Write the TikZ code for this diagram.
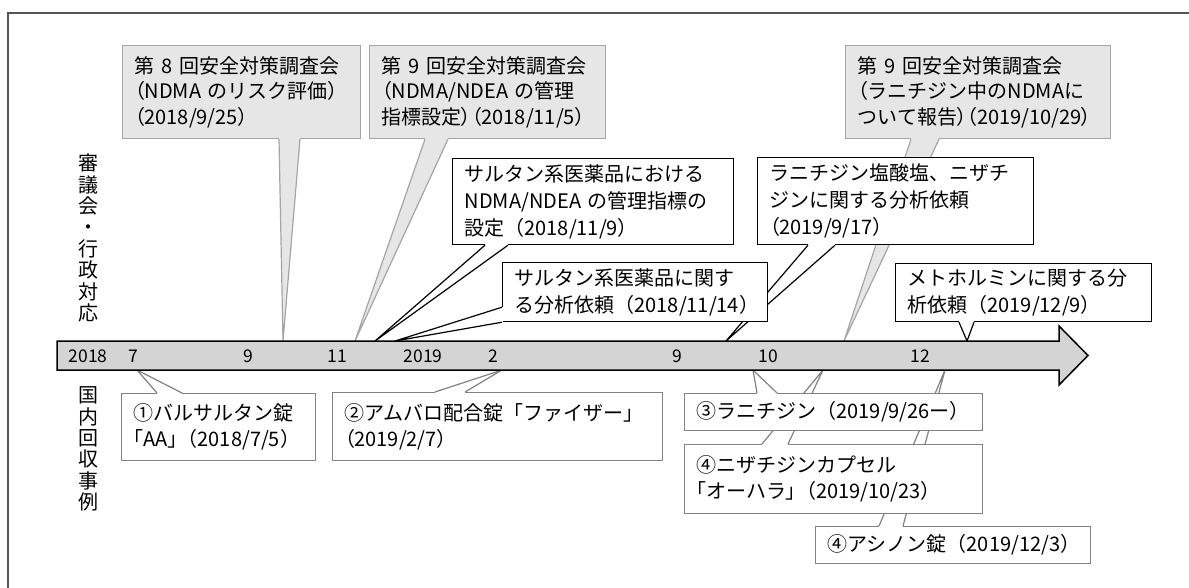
\documentclass[tikz,border=0pt]{standalone}
\usepackage{fontspec}
\setmainfont{Noto Sans CJK JP}
\newfontfamily\pfont[RawFeature=+palt]{Noto Sans CJK JP}
\usepackage{tikz}
\newcommand{\lp}{{\pfont （}}
\newcommand{\rp}{{\pfont ）}}
\newcommand{\lb}{{\pfont 「}}
\newcommand{\rb}{{\pfont 」}}
\definecolor{govfill}{RGB}{230,230,230}
\definecolor{govline}{RGB}{165,165,165}
\definecolor{recline}{RGB}{130,130,130}
\definecolor{barfill}{RGB}{212,212,212}
\definecolor{frameline}{RGB}{85,85,85}
% pointer of a callout: line colour, fill colour, base 1, base 2, tip
\newcommand{\calltail}[5]{%
  \fill[#2] (#3) -- (#5) -- (#4) -- cycle;
  \draw[#2, line width=2.2pt] (#3) -- (#4);
  \draw[#1, line width=1.2pt] (#3) -- (#5) -- (#4);}
\tikzset{
  govbox/.style={draw=govline, fill=govfill, line width=1.2pt, anchor=north west,
    inner xsep=12pt, inner ysep=0pt, align=left, font=\fontsize{20}{25.5}\selectfont},
  admbox/.style={govbox, draw=black, fill=white, font=\fontsize{20}{27}\selectfont},
  recbox/.style={govbox, draw=recline, fill=white, font=\fontsize{20}{26}\selectfont},
  month/.style={font=\fontsize{17.5}{20}\selectfont},
  sidelabel/.style={align=center, font=\fontsize{20}{21.4}\selectfont}
}
\begin{document}
\begin{tikzpicture}[x=1pt, y=-1pt]
  \useasboundingbox (0,0) rectangle (1189,587);

  \draw[frameline, line width=1.3pt] (8,600) -- (8,13) -- (1200,13);

  \node[sidelabel] (shingi) at (88,238) {審\\議\\会\\・\\行\\政\\対\\応};
  \node[sidelabel] (kaishu) at (88,449) {国\\内\\回\\収\\事\\例};

  %% tips on the time line
  \coordinate (tip-g8) at (283,341);
  \coordinate (tip-g9a) at (355,341);
  \coordinate (tip-kanri) at (375,341);
  \coordinate (tip-bunseki) at (395,341);
  \coordinate (tip-rani) at (726,341);
  \coordinate (tip-g9b) at (844,341);
  \coordinate (tip-metf) at (967,341);
  \coordinate (tip-rec1) at (137,370);
  \coordinate (tip-rec2) at (502,370);
  \coordinate (tip-rec3) at (753,370);
  \coordinate (tip-rec4a) at (823,370);
  \coordinate (tip-rec4b) at (945,370);

  %% council / administration
  \node[govbox, text width=214pt, minimum height=93pt] (g8) at (122,45)
    {第~8~回安全対策調査会\\\lp NDMA~のリスク評価\rp\\\lp 2018/9/25\rp};
  \calltail{govline}{govfill}{[xshift=157pt]g8.south west}{[xshift=178pt]g8.south west}{tip-g8}
  \node[govbox, text width=212pt, minimum height=93pt] (g9a) at (369,45)
    {第~9~回安全対策調査会\\\lp NDMA/NDEA~の管理\\指標設定\rp\lp 2018/11/5\rp};
  \calltail{govline}{govfill}{[xshift=56pt]g9a.south west}{[xshift=79pt]g9a.south west}{tip-g9a}
  \node[govbox, text width=241pt, minimum height=93pt] (g9b) at (845,45)
    {第~9~回安全対策調査会\\\lp ラニチジン中のNDMAに\\ついて報告\rp\lp 2019/10/29\rp};
  \calltail{govline}{govfill}{[xshift=66pt]g9b.south west}{[xshift=94pt]g9b.south west}{tip-g9b}

  \node[admbox, text width=252pt, minimum height=87pt] (rani) at (757,157)
    {ラニチジン塩酸塩、ニザチ\\ジンに関する分析依頼\\\lp 2019/9/17）};
  \calltail{black}{white}{[xshift=51pt]rani.south west}{[xshift=78pt]rani.south west}{tip-rani}
  \node[admbox, text width=257pt, minimum height=86pt] (kanri) at (452,158)
    {サルタン系医薬品における\\NDMA/NDEA~の管理指標の\\設定（2018/11/9）};
  \calltail{black}{white}{[xshift=33pt]kanri.south west}{[xshift=56pt]kanri.south west}{tip-kanri}
  \node[admbox, text width=241pt, minimum height=59pt] (bunseki) at (502,262)
    {サルタン系医薬品に関す\\る分析依頼（2018/11/14）};
  \calltail{black}{white}{[yshift=15pt]bunseki.south west}{bunseki.south west}{tip-bunseki}
  \node[admbox, text width=232pt, minimum height=58pt] (metf) at (895,263)
    {メトホルミンに関する分\\析依頼（2019/12/9）};
  \calltail{black}{white}{[xshift=64pt]metf.south west}{[xshift=79pt]metf.south west}{tip-metf}

  %% domestic recalls
  \node[recbox, text width=251pt, minimum height=37pt] (rec4b) at (815,526)
    {④アシノン錠（2019/12/3）};
  \calltail{recline}{white}{[xshift=64pt]rec4b.north west}{[xshift=88pt]rec4b.north west}{tip-rec4b}
  \node[recbox, text width=274pt, minimum height=69pt] (rec4a) at (684,444)
    {④ニザチジンカプセル\\\lb オーハラ\rb（2019/10/23）};
  \calltail{recline}{white}{[xshift=78pt]rec4a.north west}{[xshift=104pt]rec4a.north west}{tip-rec4a}
  \node[recbox, text width=274pt, minimum height=37pt] (rec3) at (684,393)
    {③ラニチジン（2019/9/26ー）};
  \calltail{recline}{white}{[xshift=73pt]rec3.north west}{[xshift=93pt]rec3.north west}{tip-rec3}
  \node[recbox, text width=170pt, minimum height=67pt] (rec1) at (121,393)
    {①バルサルタン錠\\\lb AA\rb（2018/7/5）};
  \calltail{recline}{white}{[xshift=36pt]rec1.north west}{[xshift=61pt]rec1.north west}{tip-rec1}
  \node[recbox, text width=306pt, minimum height=68pt] (rec2) at (332,392)
    {②アムバロ配合錠「ファイザー」\\\lp 2019/2/7）};
  \calltail{recline}{white}{[xshift=103pt]rec2.north west}{[xshift=133pt]rec2.north west}{tip-rec2}

  %% time line
  \draw[fill=barfill, line width=1.5pt] (57,341) -- (1059,341) -- (1059,326) -- (1088,355.5)
    -- (1059,385) -- (1059,370) -- (57,370) -- cycle;
  \foreach \x/\m in {88/2018, 133/7, 248/9, 337/11, 423/2019, 493/2, 677/9, 768/10, 920/12}
    \node[month] at (\x,356) {\m};
\end{tikzpicture}
\end{document}
